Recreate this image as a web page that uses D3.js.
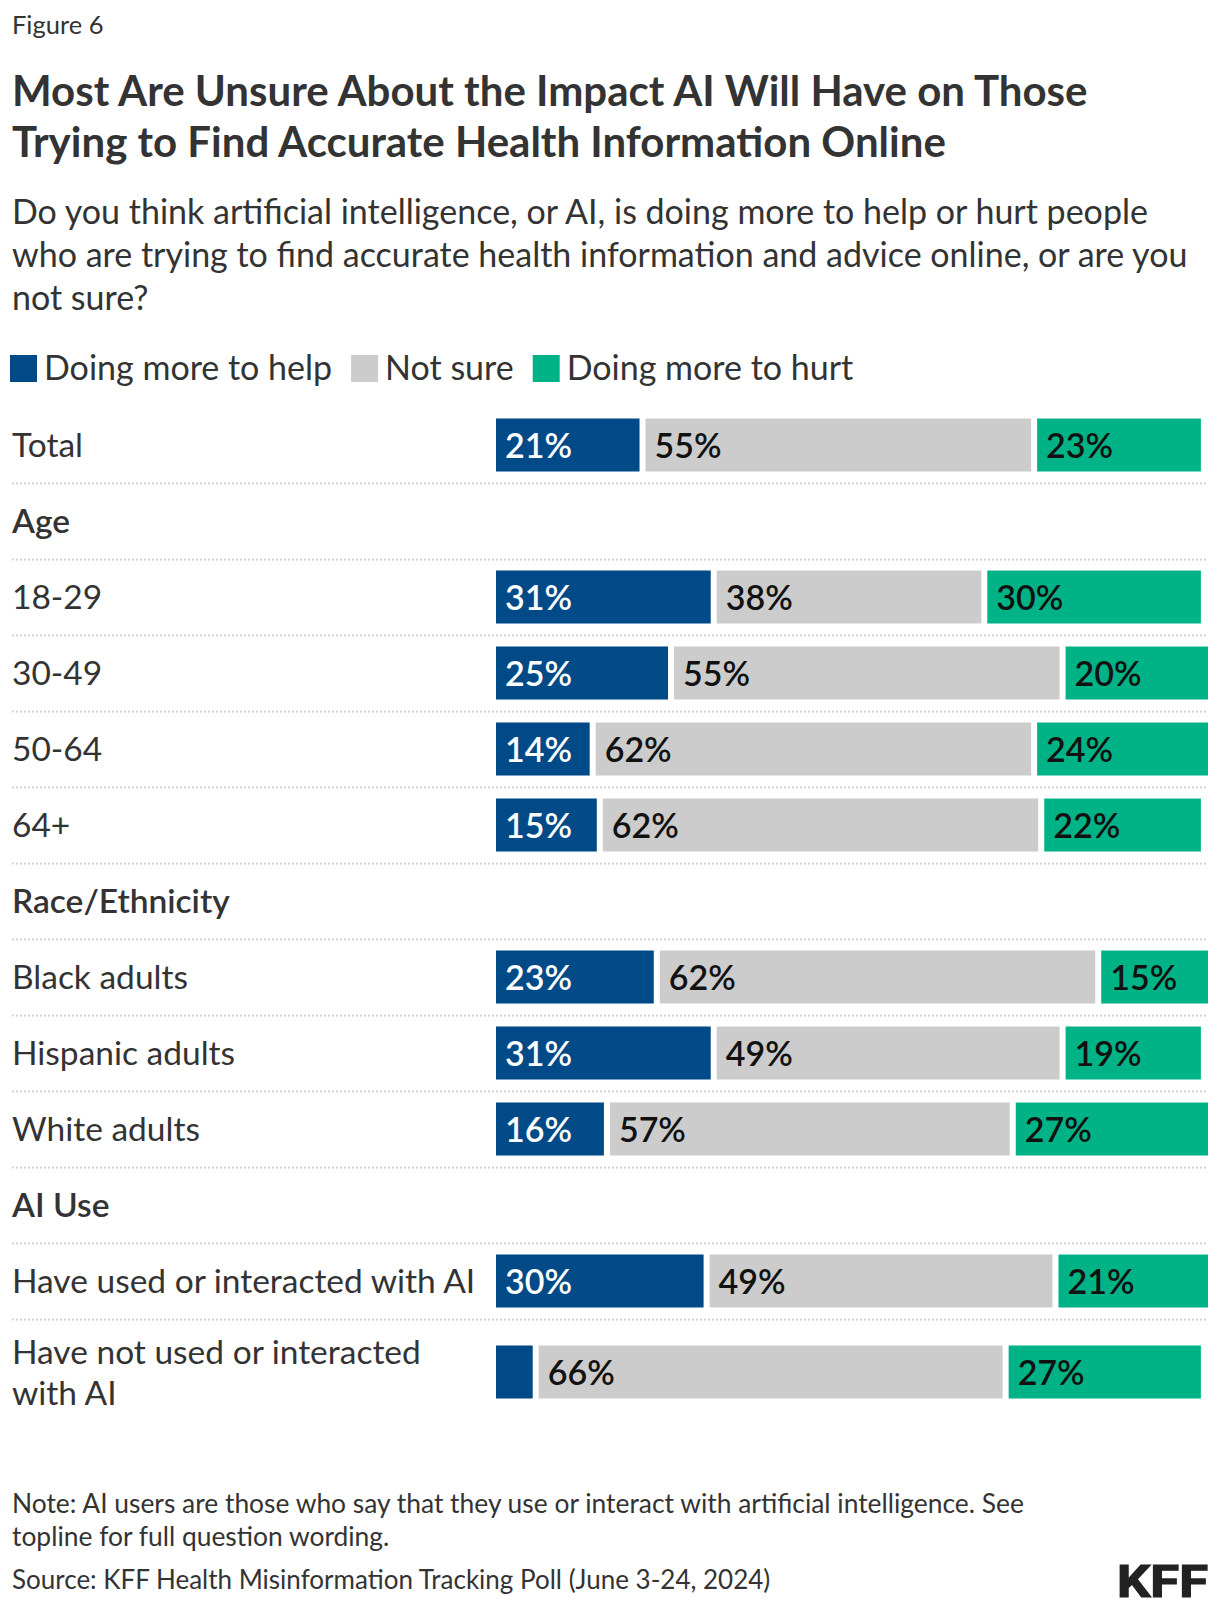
<!DOCTYPE html>
<html>
<head>
<meta charset="utf-8">
<script src="https://cdn.jsdelivr.net/npm/d3@7"></script>
<style>
  html, body { margin: 0; padding: 0; background: #fff; }
  svg { display: block; }
</style>
</head>
<body>
<script>
// ---------------- DATA ----------------
const categories = ["Total", "Age", "18-29", "30-49", "50-64", "64+", "Race/Ethnicity",
  "Black adults", "Hispanic adults", "White adults", "AI Use",
  "Have used or interacted with AI", "Have not used or interacted with AI"];
const headerRows = ["Age", "Race/Ethnicity", "AI Use"];
const seriesNames = ["Doing more to help", "Not sure", "Doing more to hurt"];
const helpValues    = [21, null, 31, 25, 14, 15, null, 23, 31, 16, null, 30, 6];
const notSureValues = [55, null, 38, 55, 62, 62, null, 62, 49, 57, null, 49, 66];
const hurtValues    = [23, null, 30, 20, 24, 22, null, 15, 19, 27, null, 21, 27];

const figureLabel = "Figure 6";
const titleLines = ["Most Are Unsure About the Impact AI Will Have on Those",
  "Trying to Find Accurate Health Information Online"];
const subtitleLines = ["Do you think artificial intelligence, or AI, is doing more to help or hurt people",
  "who are trying to find accurate health information and advice online, or are you",
  "not sure?"];
const noteLines = ["Note: AI users are those who say that they use or interact with artificial intelligence. See",
  "topline for full question wording."];
const sourceLine = "Source: KFF Health Misinformation Tracking Poll (June 3-24, 2024)";

// ---------------- STYLE ----------------
const W = 1220, H = 1610;
const FONT = "Lato, 'Open Sans', sans-serif";
const colors = ["#004A87", "#CCCCCC", "#00B386"];
const labelColors = ["#ffffff", "#111111", "#111111"];
const textColor = "#333333";
const left = 12, barLeft = 496, barRight = 1208;
const rowH = 76, barH = 53, gap = 6;
const labelSize = 33.5;

const svg = d3.select("body").append("svg").attr("width", W).attr("height", H)
  .style("font-family", FONT);

svg.append("text").attr("x", left).attr("y", 34).attr("fill", textColor)
  .style("font-size", "25.5px").text(figureLabel);

svg.append("g").selectAll("text").data(titleLines).join("text")
  .attr("x", left).attr("y", (d, i) => 106 + i * 51)
  .attr("fill", textColor).style("font-size", "42px").style("font-weight", 700)
  .text(d => d);

svg.append("g").selectAll("text").data(subtitleLines).join("text")
  .attr("x", left).attr("y", (d, i) => 224 + i * 43)
  .attr("fill", textColor).style("font-size", "34px")
  .text(d => d);

// Legend
const legend = svg.append("g").attr("transform", "translate(0,355)");
let lx = left - 2;
seriesNames.forEach((name, i) => {
  legend.append("rect").attr("x", lx).attr("y", 0).attr("width", 27).attr("height", 27).attr("fill", colors[i]);
  const t = legend.append("text").attr("x", lx + 34).attr("y", 25).attr("fill", textColor)
    .style("font-size", "34px").text(name);
  lx = lx + 34 + t.node().getComputedTextLength() + 19;
});

// Rows
const x = d3.scaleLinear().domain([0, 100]).range([barLeft, barRight]);
const rowsTop = 407;
const chart = svg.append("g");

function wrapLines(text, maxW, size) {
  const tmp = svg.append("text").style("font-size", size + "px");
  const words = text.split(" ");
  const lines = [];
  let cur = "";
  words.forEach(w => {
    const test = cur ? cur + " " + w : w;
    tmp.text(test);
    if (tmp.node().getComputedTextLength() > maxW && cur) { lines.push(cur); cur = w; }
    else cur = test;
  });
  if (cur) lines.push(cur);
  tmp.remove();
  return lines;
}

let yPos = rowsTop;
categories.forEach((cat, i) => {
  const isHeader = headerRows.includes(cat);
  const lines = isHeader ? [cat] : wrapLines(cat, 474, labelSize);
  const h = lines.length > 1 ? rowH + 30 : rowH;
  const cy = yPos + h / 2;
  const g = chart.append("g");
  const lt = g.append("text").attr("fill", textColor)
    .style("font-size", labelSize + "px").style("font-weight", isHeader ? 600 : 400);
  lines.forEach((ln, j) => {
    lt.append("tspan").attr("x", left).attr("y", cy + 12 + (j - (lines.length - 1) / 2) * 41).text(ln);
  });
  if (!isHeader) {
    const vals = [helpValues[i], notSureValues[i], hurtValues[i]];
    let cum = 0;
    const segs = vals.map((v, k) => {
      const s = { k, v, x0: cum, x1: cum + v };
      cum += v;
      return s;
    });
    g.selectAll("rect").data(segs).join("rect")
      .attr("x", d => x(d.x0))
      .attr("y", cy - barH / 2)
      .attr("width", d => x(d.x1) - x(d.x0) - (d.k < 2 ? gap : 0))
      .attr("height", barH)
      .attr("fill", d => colors[d.k]);
    g.selectAll("text.val").data(segs.filter(d => d.v >= 8)).join("text")
      .attr("class", "val")
      .attr("x", d => x(d.x0) + 9)
      .attr("y", cy + 13)
      .attr("fill", d => labelColors[d.k])
      .style("font-size", "34px").style("font-weight", 600)
      .text(d => d.v + "%");
  }
  if (i < categories.length - 1) {
    chart.append("line").attr("x1", left).attr("x2", barRight)
      .attr("y1", yPos + h + 0.5).attr("y2", yPos + h + 0.5)
      .attr("stroke", "#d4d4d4").attr("stroke-width", 2).attr("stroke-dasharray", "2,2");
  }
  yPos += h;
});

// Footer
svg.append("g").selectAll("text").data(noteLines).join("text")
  .attr("x", left).attr("y", (d, i) => 1513 + i * 33)
  .attr("fill", textColor).style("font-size", "26.4px").text(d => d);
svg.append("text").attr("x", left).attr("y", 1589).attr("fill", textColor)
  .style("font-size", "26px").text(sourceLine);
svg.append("text").attr("x", 1208).attr("y", 1597).attr("text-anchor", "end")
  .attr("fill", "#222").attr("stroke", "#222").attr("stroke-width", 1.2)
  .style("font-family", "'Liberation Sans Narrow', 'Roboto', sans-serif")
  .style("font-size", "44px").style("font-weight", 700)
  .attr("textLength", 91).attr("lengthAdjust", "spacingAndGlyphs").text("KFF");
</script>
</body>
</html>
